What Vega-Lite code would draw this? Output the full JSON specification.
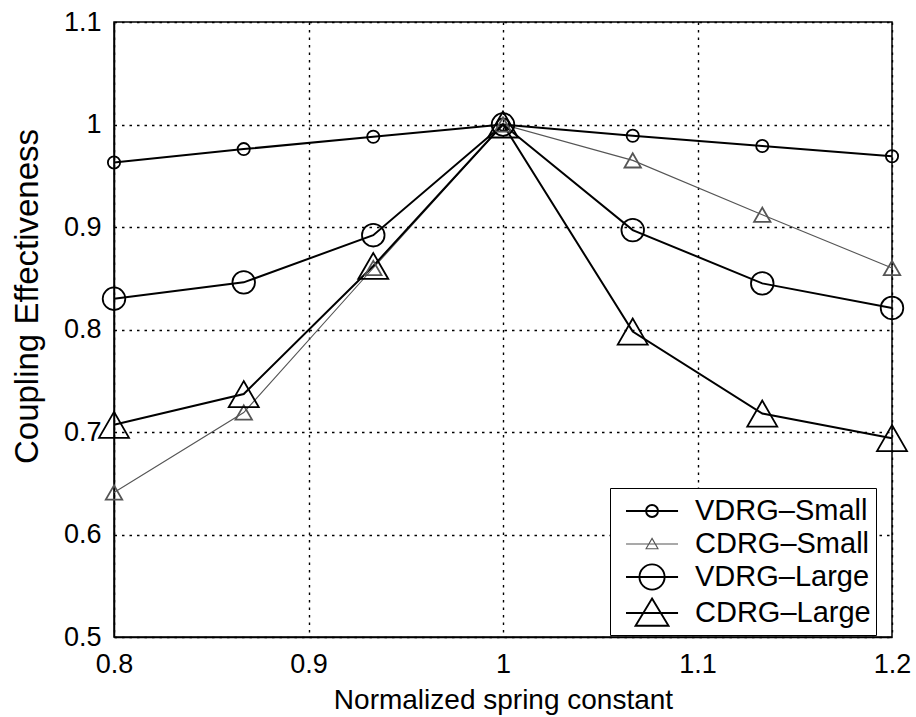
{
  "$schema": "https://vega.github.io/schema/vega-lite/v6.json",
  "width": 778,
  "height": 615,
  "autosize": {"type": "none"},
  "padding": {"left": 114, "top": 22, "right": 24, "bottom": 80},
  "background": "white",
  "config": {
    "font": "Liberation Sans",
    "view": {"stroke": "black", "strokeWidth": 1.5},
    "axis": {
      "domainColor": "black",
      "domainWidth": 1.5,
      "ticks": false,
      "tickSize": 0,
      "labelFlush": false,
      "grid": true,
      "gridColor": "black",
      "gridDash": [2.5, 5],
      "gridWidth": 1.4,
      "gridOpacity": 1,
      "labelFont": "Liberation Sans",
      "labelFontSize": 27,
      "labelColor": "black",
      "titleFont": "Liberation Sans",
      "titleFontWeight": "normal",
      "titleColor": "black"
    },
    "legend": {
      "orient": "none",
      "legendX": 496,
      "legendY": 466,
      "title": null,
      "strokeColor": "black",
      "fillColor": "white",
      "padding": 5,
      "rowPadding": 0,
      "symbolSize": 1156,
      "symbolOpacity": 1,
      "symbolFillColor": "transparent",
      "labelFontSize": 29,
      "labelOffset": 44,
      "labelFont": "Liberation Sans",
      "labelColor": "black",
      "labelLimit": 400
    }
  },
  "data": {
    "values": [
      {"x": 0.8, "y": 0.963, "series": "VDRG–Small"},
      {"x": 0.8667, "y": 0.976, "series": "VDRG–Small"},
      {"x": 0.9333, "y": 0.988, "series": "VDRG–Small"},
      {"x": 1.0, "y": 1.0, "series": "VDRG–Small"},
      {"x": 1.0667, "y": 0.989, "series": "VDRG–Small"},
      {"x": 1.1333, "y": 0.979, "series": "VDRG–Small"},
      {"x": 1.2, "y": 0.969, "series": "VDRG–Small"},
      {"x": 0.8, "y": 0.641, "series": "CDRG–Small"},
      {"x": 0.8667, "y": 0.719, "series": "CDRG–Small"},
      {"x": 0.9333, "y": 0.86, "series": "CDRG–Small"},
      {"x": 1.0, "y": 1.0, "series": "CDRG–Small"},
      {"x": 1.0667, "y": 0.965, "series": "CDRG–Small"},
      {"x": 1.1333, "y": 0.912, "series": "CDRG–Small"},
      {"x": 1.2, "y": 0.86, "series": "CDRG–Small"},
      {"x": 0.8, "y": 0.83, "series": "VDRG–Large"},
      {"x": 0.8667, "y": 0.846, "series": "VDRG–Large"},
      {"x": 0.9333, "y": 0.892, "series": "VDRG–Large"},
      {"x": 1.0, "y": 1.0, "series": "VDRG–Large"},
      {"x": 1.0667, "y": 0.897, "series": "VDRG–Large"},
      {"x": 1.1333, "y": 0.845, "series": "VDRG–Large"},
      {"x": 1.2, "y": 0.821, "series": "VDRG–Large"},
      {"x": 0.8, "y": 0.707, "series": "CDRG–Large"},
      {"x": 0.8667, "y": 0.737, "series": "CDRG–Large"},
      {"x": 0.9333, "y": 0.862, "series": "CDRG–Large"},
      {"x": 1.0, "y": 1.0, "series": "CDRG–Large"},
      {"x": 1.0667, "y": 0.798, "series": "CDRG–Large"},
      {"x": 1.1333, "y": 0.718, "series": "CDRG–Large"},
      {"x": 1.2, "y": 0.694, "series": "CDRG–Large"}
    ]
  },
  "encoding": {
    "x": {
      "field": "x",
      "type": "quantitative",
      "scale": {"domain": [0.8, 1.2], "nice": false, "zero": false},
      "axis": {
        "values": [0.8, 0.9, 1, 1.1, 1.2],
        "format": "~g",
        "labelPadding": 14,
        "title": "Normalized spring constant",
        "titleFontSize": 28,
        "titleBaseline": "alphabetic",
        "titleY": 71
      }
    },
    "y": {
      "field": "y",
      "type": "quantitative",
      "scale": {"domain": [0.5, 1.1], "nice": false, "zero": false},
      "axis": {
        "values": [0.5, 0.6, 0.7, 0.8, 0.9, 1, 1.1],
        "format": "~g",
        "labelPadding": 13,
        "title": "Coupling Effectiveness",
        "titleFontSize": 33,
        "titleBaseline": "alphabetic",
        "titleX": -77,
        "titleY": 274
      }
    }
  },
  "layer": [
    {
      "mark": {"type": "line"},
      "encoding": {
        "detail": {"field": "series", "type": "nominal"},
        "color": {
          "field": "series",
          "type": "nominal",
          "scale": {
            "domain": ["CDRG–Small", "VDRG–Small", "VDRG–Large", "CDRG–Large"],
            "range": ["#555555", "black", "black", "black"]
          },
          "legend": null
        },
        "strokeWidth": {
          "field": "series",
          "type": "nominal",
          "scale": {
            "type": "ordinal",
            "domain": ["CDRG–Small", "VDRG–Small", "VDRG–Large", "CDRG–Large"],
            "range": [1.1, 2, 2, 2]
          },
          "legend": null
        }
      }
    },
    {
      "mark": {"type": "point", "filled": false, "strokeWidth": 1.8, "opacity": 1},
      "encoding": {
        "color": {
          "field": "series",
          "type": "nominal",
          "scale": {
            "domain": ["CDRG–Small", "VDRG–Small", "VDRG–Large", "CDRG–Large"],
            "range": ["#555555", "black", "black", "black"]
          },
          "legend": null
        },
        "size": {
          "field": "series",
          "type": "nominal",
          "scale": {
            "type": "ordinal",
            "domain": ["CDRG–Small", "VDRG–Small", "VDRG–Large", "CDRG–Large"],
            "range": [270, 150, 510, 900]
          },
          "legend": null
        },
        "shape": {
          "field": "series",
          "type": "nominal",
          "scale": {
            "domain": ["CDRG–Small", "VDRG–Small", "VDRG–Large", "CDRG–Large"],
            "range": ["triangle-up", "circle", "circle", "triangle-up"]
          },
          "legend": null
        }
      }
    },
    {
      "mark": {"type": "point", "filled": false, "opacity": 0},
      "encoding": {
        "color": {
          "field": "series",
          "type": "nominal",
          "scale": {
            "domain": ["VDRG–Small", "CDRG–Small", "VDRG–Large", "CDRG–Large"],
            "range": ["black", "#555555", "black", "black"]
          },
          "legend": {}
        },
        "strokeWidth": {
          "field": "series",
          "type": "nominal",
          "scale": {
            "type": "ordinal",
            "domain": ["VDRG–Small", "CDRG–Small", "VDRG–Large", "CDRG–Large"],
            "range": [1.9, 1.1, 1.9, 1.9]
          },
          "legend": {}
        },
        "shape": {
          "field": "series",
          "type": "nominal",
          "scale": {
            "domain": ["VDRG–Small", "CDRG–Small", "VDRG–Large", "CDRG–Large"],
            "range": [
              "M-0.41,0L2.65,0M1.47,0A0.35,0.35,0,1,1,0.77,0A0.35,0.35,0,1,1,1.47,0",
              "M-0.41,0L2.65,0M1.12,-0.33L1.47,0.28L0.77,0.28Z",
              "M-0.41,0L2.65,0M1.86,0A0.74,0.74,0,1,1,0.38,0A0.74,0.74,0,1,1,1.86,0",
              "M-0.41,0L2.65,0M1.12,-0.85L2.09,0.75L0.15,0.75Z"
            ]
          },
          "legend": {}
        }
      }
    }
  ],
  "resolve": {
    "scale": {
      "color": "independent",
      "shape": "independent",
      "strokeWidth": "independent",
      "size": "independent"
    }
  }
}
